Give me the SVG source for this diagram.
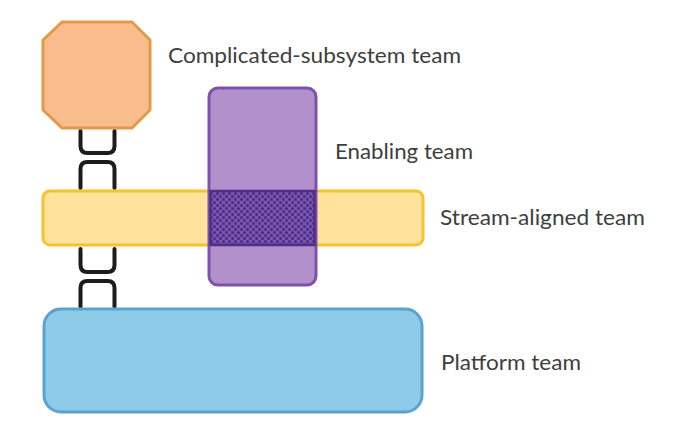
<svg xmlns="http://www.w3.org/2000/svg" width="675" height="432" viewBox="0 0 675 432">
<style>
.lbl{font-family:Lato,"Open Sans","Liberation Sans",sans-serif;font-size:22px;fill:#3e3e3e}
.link{fill:none;stroke:#1c1c1c;stroke-width:4;stroke-linecap:round}
</style>
<defs>
<pattern id="dots" width="6" height="6" patternUnits="userSpaceOnUse">
<rect width="6" height="6" fill="#7856ae"/>
<circle cx="1.5" cy="1.5" r="1.5" fill="#4b2b84"/>
<circle cx="4.5" cy="4.5" r="1.5" fill="#4b2b84"/>
</pattern>
</defs>
<rect width="675" height="432" fill="#ffffff"/>
<g id="connectors">
<path class="link" d="M80.5,131 V146 Q80.5,153 87.5,153 H107.5 Q114.5,153 114.5,146 V131"/>
<path class="link" d="M80.5,188 V169 Q80.5,162 87.5,162 H107.5 Q114.5,162 114.5,169 V188"/>
<path class="link" d="M80.5,249 V265 Q80.5,272 87.5,272 H107.5 Q114.5,272 114.5,265 V249"/>
<path class="link" d="M80.5,307 V288 Q80.5,281 87.5,281 H107.5 Q114.5,281 114.5,288 V307"/>
</g>
<g id="complicated-subsystem">
<polygon points="62,22 132,22 150,40 150,110 132,128 62,128 43,110 43,40" fill="#f9bc8d" stroke="#e39a48" stroke-width="3" stroke-linejoin="round"/>
<text class="lbl" x="168" y="63" textLength="293" lengthAdjust="spacingAndGlyphs">Complicated-subsystem team</text>
</g>
<g id="stream-aligned">
<rect x="43" y="191" width="380" height="54" rx="7" fill="#ffe39c" stroke="#f6c230" stroke-width="3"/>
<text class="lbl" x="440" y="225" textLength="205" lengthAdjust="spacingAndGlyphs">Stream-aligned team</text>
</g>
<g id="platform">
<rect x="44" y="309" width="378" height="103" rx="17" fill="#8ecbe8" stroke="#5aa2cf" stroke-width="3"/>
<text class="lbl" x="441" y="370" textLength="140" lengthAdjust="spacingAndGlyphs">Platform team</text>
</g>
<g id="enabling">
<rect x="209" y="88" width="107" height="197" rx="9" fill="#b290cc" stroke="#7c52ae" stroke-width="3"/>
<rect x="210.5" y="191" width="104" height="54" fill="url(#dots)" stroke="#4f2f88" stroke-width="2.5"/>
<text class="lbl" x="335" y="159" textLength="138" lengthAdjust="spacingAndGlyphs">Enabling team</text>
</g>
</svg>
